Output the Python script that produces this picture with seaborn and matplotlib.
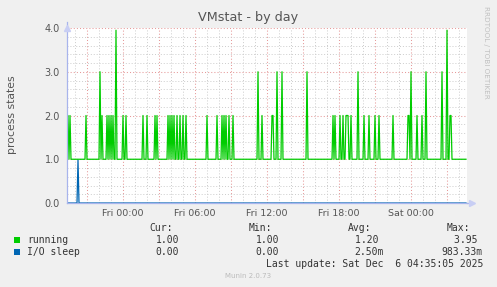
import numpy as np
import pandas as pd
import matplotlib
matplotlib.use("Agg")
import matplotlib.pyplot as plt
import matplotlib.dates as mdates
import matplotlib.ticker as mticker
import seaborn as sns

# ---------------- data ----------------
start_time = "2025-12-04 19:20"
end_time = "2025-12-06 04:40"
sample_minutes = 5
n_samples = 400

running_base = 1.0
running_spike_times = [
    "2025-12-04 19:25", "2025-12-04 19:35", "2025-12-04 20:55", "2025-12-04 22:05",
    "2025-12-04 22:15", "2025-12-04 22:40", "2025-12-04 22:50", "2025-12-04 23:00",
    "2025-12-04 23:10", "2025-12-04 23:25", "2025-12-05 00:00", "2025-12-05 00:15",
    "2025-12-05 01:40", "2025-12-05 02:00", "2025-12-05 02:40", "2025-12-05 02:50",
    "2025-12-05 03:45", "2025-12-05 03:55", "2025-12-05 04:05", "2025-12-05 04:15",
    "2025-12-05 04:30", "2025-12-05 04:45", "2025-12-05 05:00", "2025-12-05 05:15",
    "2025-12-05 07:00", "2025-12-05 07:50", "2025-12-05 08:15", "2025-12-05 08:25",
    "2025-12-05 08:35", "2025-12-05 08:50", "2025-12-05 09:10", "2025-12-05 11:15",
    "2025-12-05 11:35", "2025-12-05 12:25", "2025-12-05 12:30", "2025-12-05 12:50",
    "2025-12-05 13:15", "2025-12-05 15:20", "2025-12-05 17:30", "2025-12-05 17:40",
    "2025-12-05 18:05", "2025-12-05 18:20", "2025-12-05 18:35", "2025-12-05 18:40",
    "2025-12-05 18:45", "2025-12-05 19:00", "2025-12-05 19:35", "2025-12-05 20:05",
    "2025-12-05 20:30", "2025-12-05 21:00", "2025-12-05 21:20", "2025-12-05 22:30",
    "2025-12-05 23:45", "2025-12-05 23:50", "2025-12-06 00:00", "2025-12-06 00:30",
    "2025-12-06 00:55", "2025-12-06 01:15", "2025-12-06 02:35", "2025-12-06 03:00",
    "2025-12-06 03:15", "2025-12-06 03:20",
]
running_spike_values = [
    2.0, 2.0, 2.0, 3.0,
    2.0, 2.0, 2.0, 2.0,
    2.0, 3.95, 2.0, 2.0,
    2.0, 2.0, 2.0, 2.0,
    2.0, 2.0, 2.0, 2.0,
    2.0, 2.0, 2.0, 2.0,
    2.0, 2.0, 2.0, 2.0,
    2.0, 2.0, 2.0, 3.0,
    2.0, 2.0, 2.0, 3.0,
    3.0, 3.0, 2.0, 2.0,
    2.0, 2.0, 2.0, 2.0,
    2.0, 2.0, 3.0, 2.0,
    2.0, 2.0, 2.0, 2.0,
    2.0, 2.0, 3.0, 2.0,
    2.0, 3.0, 3.0, 3.95,
    2.0, 2.0,
]

iosleep_base = 0.0
iosleep_spike_times = ["2025-12-04 20:15"]
iosleep_spike_values = [0.98333]

series_names = ["running", "I/O sleep"]
series_colors = ["#00CC00", "#0066B3"]
legend_cur = ["1.00", "0.00"]
legend_min = ["1.00", "0.00"]
legend_avg = ["1.20", "2.50m"]
legend_max = ["3.95", "983.33m"]

y_ticks = [0.0, 1.0, 2.0, 3.0, 4.0]
y_tick_labels = ["0.0", "1.0", "2.0", "3.0", "4.0"]

# ---------------- build series ----------------
times = pd.date_range(start_time, periods=n_samples, freq=f"{sample_minutes}min")
running = pd.Series(running_base, index=times)
running.loc[pd.to_datetime(running_spike_times)] = running_spike_values
iosleep = pd.Series(iosleep_base, index=times)
iosleep.loc[pd.to_datetime(iosleep_spike_times)] = iosleep_spike_values

df = pd.DataFrame({"time": times, "running": running.values, "iosleep": iosleep.values})

# ---------------- figure ----------------
W, H = 497, 287
fig = plt.figure(figsize=(W / 100, H / 100), dpi=100)
fig.patch.set_facecolor("#F0F0F0")
ax = fig.add_axes([67 / W, 1 - 203 / H, 400 / W, 175 / H])
ax.set_facecolor("white")

grid_minor = "#CCCCCC"
grid_major = "#E69A9A"
axis_col = "#A8B4EC"
text_col = "#555555"

# grid
ax.xaxis.set_major_locator(mdates.HourLocator(byhour=range(0, 24, 3)))
ax.xaxis.set_minor_locator(mdates.HourLocator())
def xfmt(x, pos):
    d = mdates.num2date(x)
    return d.strftime("%a %H:%M") if d.hour % 6 == 0 else ""
ax.xaxis.set_major_formatter(mticker.FuncFormatter(xfmt))
ax.yaxis.set_major_locator(mticker.FixedLocator(y_ticks))
ax.yaxis.set_major_formatter(mticker.FixedFormatter(y_tick_labels))
ax.yaxis.set_minor_locator(mticker.MultipleLocator(0.2))

ax.grid(which="minor", color=grid_minor, linestyle=(0, (1, 2)), linewidth=0.7, zorder=0)
ax.grid(which="major", color=grid_major, linestyle=(0, (1, 2)), linewidth=0.75, zorder=0)
ax.set_axisbelow(True)

sns.lineplot(data=df, x="time", y="iosleep", ax=ax, color=series_colors[1],
             linewidth=0.9, estimator=None, legend=False, zorder=3)
sns.lineplot(data=df, x="time", y="running", ax=ax, color=series_colors[0],
             linewidth=0.9, estimator=None, legend=False, zorder=4)

ax.set_xlim(pd.Timestamp(start_time), pd.Timestamp(end_time))
ax.set_ylim(0, 4.0)
ax.set_xlabel("")
ax.set_ylabel("")

for s in ["top", "right"]:
    ax.spines[s].set_visible(False)
for s in ["left", "bottom"]:
    ax.spines[s].set_color(axis_col)
    ax.spines[s].set_linewidth(0.9)
    ax.spines[s].set_zorder(5)

ax.tick_params(which="both", length=0)
ax.tick_params(axis="y", labelsize=7, labelcolor=text_col, pad=5)
ax.tick_params(axis="x", labelsize=6.8, labelcolor=text_col, pad=4)

# axis arrows
ax.plot([0], [1.0], transform=ax.transAxes, marker="^", markersize=5,
        color="#C8CEF4", clip_on=False, zorder=6, linestyle="none")
ax.plot([0, 0], [1.0, 1.035], transform=ax.transAxes, color=axis_col, lw=0.9, clip_on=False)
ax.plot([1.0, 1.012], [0, 0], transform=ax.transAxes, color=axis_col, lw=0.9, clip_on=False)
ax.plot([1.012], [0], transform=ax.transAxes, marker=">", markersize=5,
        color="#C8CEF4", clip_on=False, zorder=6, linestyle="none")

# titles
fig.text(248.5 / W, 1 - 18 / H, "VMstat - by day", ha="center", va="center",
         fontsize=9.2, color=text_col)
fig.text(12 / W, 1 - 115 / H, "process states", ha="center", va="center",
         rotation=90, fontsize=7.8, color=text_col)
fig.text(486 / W, 1 - 6 / H, "RRDTOOL / TOBI OETIKER", ha="center", va="top",
         rotation=270, fontsize=5.2, color="#C0C0C0")

# legend
mono = dict(family="DejaVu Sans Mono", fontsize=7, color="#333333", va="center")
def fx(px):
    return px / W
def fy(py):
    return 1 - py / H

fig.text(fx(149), fy(228), "Cur:", **mono)
fig.text(fx(249), fy(228), "Min:", **mono)
fig.text(fx(348), fy(228), "Avg:", **mono)
fig.text(fx(447), fy(228), "Max:", **mono)

rows_y = [240, 252]
for i, name in enumerate(series_names):
    y = rows_y[i]
    fig.patches.append(plt.Rectangle((fx(14), fy(y + 3)), 6 / W, 6 / H,
                                     transform=fig.transFigure, facecolor=series_colors[i],
                                     edgecolor="none"))
    fig.text(fx(27), fy(y), name, **mono)
    fig.text(fx(179), fy(y), legend_cur[i], ha="right", **mono)
    fig.text(fx(279), fy(y), legend_min[i], ha="right", **mono)
    avg = legend_avg[i] if legend_avg[i][-1].isalpha() else legend_avg[i] + " "
    mx = legend_max[i] if legend_max[i][-1].isalpha() else legend_max[i] + " "
    fig.text(fx(384), fy(y), avg, ha="right", **mono)
    fig.text(fx(483), fy(y), mx, ha="right", **mono)

fig.text(fx(483), fy(264), "Last update: Sat Dec  6 04:35:05 2025", ha="right", **mono)
fig.text(fx(248.5), fy(276), "Munin 2.0.73", ha="center", va="center",
         fontsize=5, color="#BBBBBB")

fig.savefig("out.png", dpi=100, facecolor=fig.get_facecolor())
